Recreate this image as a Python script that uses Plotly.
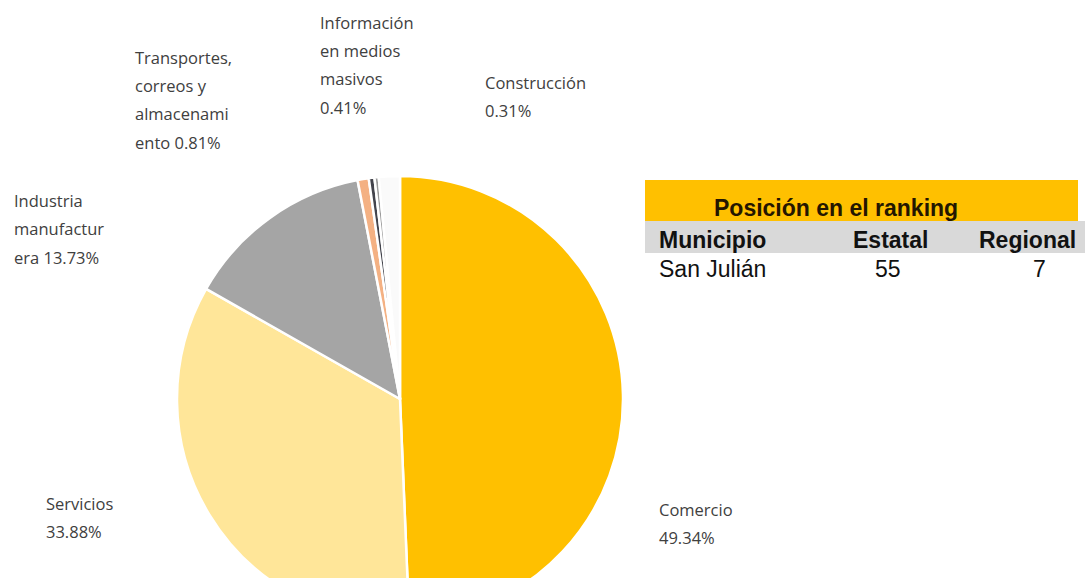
import plotly.graph_objects as go

# Sector shares (percent of total)
sectors = ["Comercio", "Servicios", "Industria manufacturera",
           "Transportes, correos y almacenamiento",
           "Información en medios masivos", "Construcción", "Otros"]
shares = [49.34, 33.88, 13.73, 0.81, 0.41, 0.31, 1.52]

# how each label is wrapped in the picture (None = no label)
label_lines = [
    ["Comercio", "{p}"],
    ["Servicios", "{p}"],
    ["Industria", "manufactur", "era {p}"],
    ["Transportes,", "correos y", "almacenami", "ento {p}"],
    ["Información", "en medios", "masivos", "{p}"],
    ["Construcción", "{p}"],
    None,
]

# ranking table
rank_title = "Posición en el ranking"
rank_header = ["Municipio", "Estatal", "Regional"]
rank_row = ["San Julián", "55", "7"]

COLORS = ["#FFC000", "#FFE699", "#A5A5A5", "#F4B183", "#43444C", "#9A9A9A", "#FAFAFA"]
W, H = 1087, 640
LABEL_FONT = dict(family="Open Sans, sans-serif", size=16.5, color="#404040")
TABLE_FONT = "Liberation Sans, Arial, sans-serif"

# pie geometry in pixels
cx, cy, r = 400, 399, 223

fig = go.Figure()
fig.add_trace(go.Pie(
    labels=sectors,
    values=shares,
    sort=False,
    direction="clockwise",
    rotation=0,
    textinfo="none",
    hoverinfo="label+percent",
    marker=dict(colors=COLORS, line=dict(color="white", width=2.5)),
    domain=dict(x=[(cx - r) / W, (cx + r) / W], y=[1 - (cy + r) / H, 1 - (cy - r) / H]),
    showlegend=False,
))

# label anchor (left x, first line y) and line spacing in px
label_pos = [(657, 509), (44, 503), (12, 200), (133, 57), (318, 22), (483, 82), None]
line_gap = 28.5

def px(x, y):
    return x / W, 1 - y / H

for lines, share, pos in zip(label_lines, shares, label_pos):
    if lines is None:
        continue
    pct = f"{share:.2f}%"
    for i, ln in enumerate(lines):
        x, y = px(pos[0], pos[1] + i * line_gap)
        fig.add_annotation(x=x, y=y, xref="paper", yref="paper", text=ln.format(p=pct),
                           showarrow=False, xanchor="left", yanchor="middle", font=LABEL_FONT)

# ranking table boxes
for (xa, xb, ya, yb, col) in [(645, 1078, 180, 221, "#FFC000"), (645, 1085, 221, 253, "#D9D9D9")]:
    fig.add_shape(type="rect", xref="paper", yref="paper",
                  x0=xa / W, x1=xb / W, y0=1 - yb / H, y1=1 - ya / H,
                  fillcolor=col, line_width=0, layer="below")

tx, ty = px(836, 208)
fig.add_annotation(x=tx, y=ty, xref="paper", yref="paper", text=f"<b>{rank_title}</b>",
                   showarrow=False, xanchor="center", yanchor="middle",
                   font=dict(family=TABLE_FONT, size=23, color="#241600"))

hdr_x = [(657, "left"), (890, "center"), (1078, "right")]
val_x = [(657, "left"), (888, "center"), (1039, "center")]
for (hxp, hanc), (vxp, vanc), hdr, val in zip(hdr_x, val_x, rank_header, rank_row):
    hx, hy = px(hxp, 240)
    fig.add_annotation(x=hx, y=hy, xref="paper", yref="paper", text=f"<b>{hdr}</b>",
                       showarrow=False, xanchor=hanc, yanchor="middle",
                       font=dict(family=TABLE_FONT, size=23, color="#111111"))
    vx, vy = px(vxp, 269)
    fig.add_annotation(x=vx, y=vy, xref="paper", yref="paper", text=val,
                       showarrow=False, xanchor=vanc, yanchor="middle",
                       font=dict(family=TABLE_FONT, size=23, color="#111111"))

fig.update_layout(
    width=W, height=H,
    margin=dict(l=0, r=0, t=0, b=0),
    paper_bgcolor="white",
    plot_bgcolor="white",
)

fig.write_html("out.html", config={"displayModeBar": False},
               post_script="document.body.style.margin='0';document.body.style.overflow='hidden';document.documentElement.style.overflow='hidden';")
